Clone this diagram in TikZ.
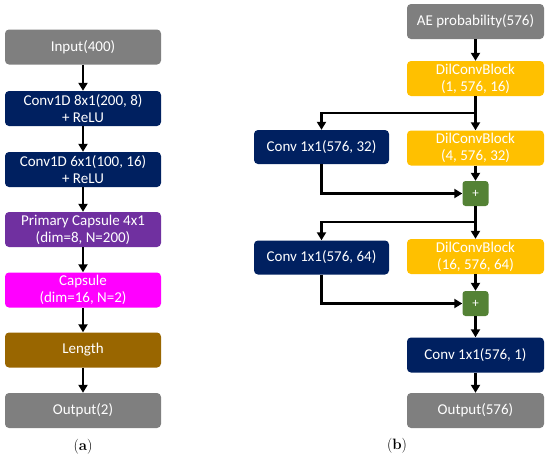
\documentclass[tikz,border=0pt]{standalone}
\usepackage{fontspec}
\setmainfont{Carlito}
\newfontfamily\seriffont{Latin Modern Roman}
\usetikzlibrary{arrows.meta}
\definecolor{cgray}{HTML}{7F7F7F}
\definecolor{cnavy}{HTML}{002060}
\definecolor{cpurple}{HTML}{7030A0}
\definecolor{cmagenta}{HTML}{FF00FF}
\definecolor{cbrown}{HTML}{996600}
\definecolor{cyellow}{HTML}{FFC000}
\definecolor{cgreen}{HTML}{548235}
\begin{document}
\begin{tikzpicture}[x=1pt,y=-1pt,
  blk/.style={rounded corners=4pt, inner sep=0pt, text=white, align=center,
    font=\fontsize{15}{17}\selectfont},
  lbox/.style={blk, minimum width=156pt, minimum height=35pt},
  rbox/.style={blk, minimum width=137pt, minimum height=35pt},
  cbox/.style={blk, minimum width=135pt, minimum height=34pt, fill=cnavy},
  plusbox/.style={rounded corners=3pt, fill=cgreen, minimum width=26pt, minimum height=25pt,
    inner sep=0pt, text=white, font=\fontsize{13}{13}\selectfont},
  arr/.style={line width=2.8pt, -{Triangle[width=9pt,length=8pt]}},
  sublabel/.style={font=\seriffont\fontsize{15}{17}\selectfont}]
\useasboundingbox (0,0) rectangle (550,459);
% left column
\node[lbox, fill=cgray] (in) at (83,47) {Input(400)};
\node[lbox, fill=cnavy] (cv1) at (83,108.5) {Conv1D 8x1(200, 8)\\+ ReLU};
\node[lbox, fill=cnavy] (cv2) at (83,169.5) {Conv1D 6x1(100, 16)\\+ ReLU};
\node[lbox, fill=cpurple] (pc) at (83,229.5) {Primary Capsule 4x1\\(dim=8, N=200)};
\node[lbox, fill=cmagenta] (cp) at (83,290) {Capsule\\(dim=16, N=2)};
\node[lbox, fill=cbrown] (len) at (83,350) {Length};
\node[lbox, fill=cgray] (outa) at (83,410.5) {Output(2)};
\draw[arr] (in) -- (cv1);
\draw[arr] (cv1) -- (cv2);
\draw[arr] (cv2) -- (pc);
\draw[arr] (pc) -- (cp);
\draw[arr] (cp) -- (len);
\draw[arr] (len) -- (outa);
\node[sublabel] (la) at (83,447) {(\textbf{a})};
% right column
\node[rbox, fill=cgray] (ae) at (475.5,21.5) {AE probability(576)};
\node[rbox, fill=cyellow] (d1) at (475.5,78.5) {DilConvBlock\\(1, 576, 16)};
\node[rbox, fill=cyellow] (d2) at (475.5,148) {DilConvBlock\\(4, 576, 32)};
\node[cbox] (c1) at (321.5,147) {Conv 1x1(576, 32)};
\node[plusbox] (p1) at (475.5,193.5) {+};
\node[rbox, fill=cyellow] (d3) at (475.5,256.5) {DilConvBlock\\(16, 576, 64)};
\node[cbox] (c2) at (321.5,257.5) {Conv 1x1(576, 64)};
\node[plusbox] (p2) at (475.5,303.5) {+};
\node[rbox, fill=cnavy] (c3) at (475.5,355) {Conv 1x1(576, 1)};
\node[rbox, fill=cgray] (outb) at (475.5,410.5) {Output(576)};
\coordinate (s1) at (475.5,113);
\coordinate (s2) at (475.5,222);
\draw[arr] (ae) -- (d1);
\draw[arr] (d1) -- (d2);
\draw[arr] (s1) -| (c1.north);
\draw[arr] (c1.south) |- (p1.west);
\draw[arr] (d2) -- (p1);
\draw[arr] (p1) -- (d3);
\draw[arr] (s2) -| (c2.north);
\draw[arr] (c2.south) |- (p2.west);
\draw[arr] (d3) -- (p2);
\draw[arr] (p2) -- (c3);
\draw[arr] (c3) -- (outb);
\node[sublabel] (lb) at (397,446) {(\textbf{b})};
\end{tikzpicture}
\end{document}
